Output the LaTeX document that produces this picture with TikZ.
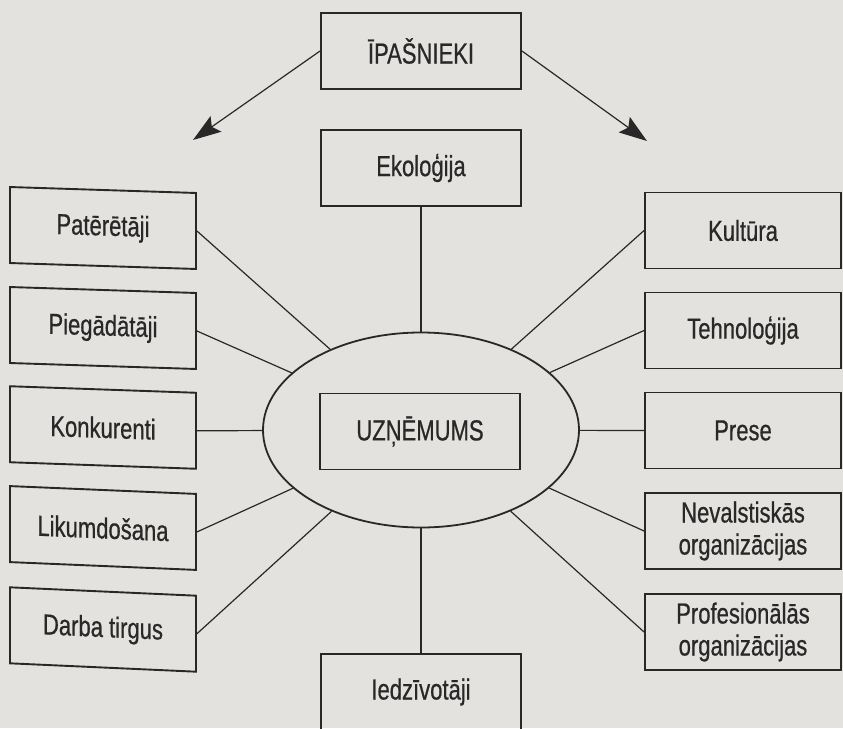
\documentclass[tikz,border=0pt]{standalone}
\usepackage{fontspec}
\setmainfont{Liberation Sans}[FakeStretch=0.76,FakeBold=0.6]
\usetikzlibrary{shapes.geometric,arrows.meta}
\definecolor{paper}{RGB}{228,226,223}
\definecolor{ink}{RGB}{40,40,40}
\begin{document}
\begin{tikzpicture}[x=1pt,y=-1pt,
  box/.style={draw=ink, line width=1.9pt, minimum width=200pt, minimum height=76pt,
    inner sep=0pt, text=ink, font=\fontsize{29}{32}\selectfont, align=center},
  leftbox/.style={box, minimum width=186pt, transform shape},
  rightbox/.style={box, minimum width=196pt},
  hub/.style={ellipse, draw=ink, line width=1.8pt, minimum width=316pt,
    minimum height=195pt, inner sep=0pt},
  link/.style={draw=ink, line width=1.2pt},
  pointer/.style={draw=ink, line width=1.2pt,
    -{Stealth[length=28pt,width=19pt,inset=5pt]}}]

% paper and page frame
\fill[paper] (0,0) rectangle (843,728);
\useasboundingbox (0,0) rectangle (843,728);

% centre
\node[hub] (ell) at (421,430) {};
\node[box] (uzn) at (420,431.5) {UZŅĒMUMS};

% top
\node[box] (ipas) at (421,51) {ĪPAŠNIEKI};
\node[box] (eko) at (421,168) {Ekoloģija};
\coordinate (ltip) at (193,140);
\coordinate (rtip) at (647,141);

% left column (slightly sheared boxes)
\begin{scope}[shift={(103,228)}, yslant=-0.032]
  \node[leftbox] (pat) at (0,0) {Patērētāji};
\end{scope}
\begin{scope}[shift={(103,328)}, yslant=-0.032]
  \node[leftbox] (pieg) at (0,0) {Piegādātāji};
\end{scope}
\begin{scope}[shift={(103,427.5)}, yslant=-0.035]
  \node[leftbox] (konk) at (0,0) {Konkurenti};
\end{scope}
\begin{scope}[shift={(103,528)}, yslant=-0.042]
  \node[leftbox] (lik) at (0,0) {Likumdošana};
\end{scope}
\begin{scope}[shift={(103,629.5)}, yslant=-0.045]
  \node[leftbox] (darb) at (0,0) {Darba tirgus};
\end{scope}

% right column
\node[rightbox] (kult) at (743,230.5) {Kultūra};
\node[rightbox] (tehn) at (743,330.5) {Tehnoloģija};
\node[rightbox] (pres) at (743,430.5) {Prese};
\node[rightbox] (nev) at (743,531) {Nevalstiskās\\organizācijas};
\node[rightbox] (prof) at (743,632) {Profesionālās\\organizācijas};

% bottom
\node[box] (ied) at (421,692) {Iedzīvotāji};

% arrows from the owners
\draw[pointer] (ipas.west) -- (ltip);
\draw[pointer] (ipas.east) -- (rtip);

% spokes into the enterprise
\draw[link] (eko.south) -- (ell.north);
\draw[link] (ell.south) -- (ied.north);
\draw[link] (pat.east) -- (ell);
\draw[link] (pieg.east) -- (ell);
\draw[link] (konk.east) -- (ell);
\draw[link] (lik.east) -- (ell);
\draw[link] (darb.east) -- (ell);
\draw[link] (kult.west) -- (ell);
\draw[link] (tehn.west) -- (ell);
\draw[link] (pres.west) -- (ell);
\draw[link] (nev.west) -- (ell);
\draw[link] (prof.west) -- (ell);
\end{tikzpicture}
\end{document}
